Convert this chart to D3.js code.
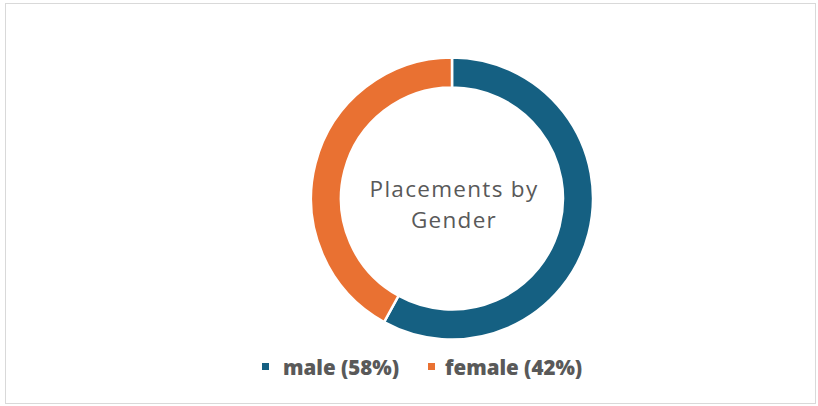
<!DOCTYPE html>
<html>
<head>
<meta charset="utf-8">
<script src="https://cdn.jsdelivr.net/npm/d3@7"></script>
<style>
  body { margin: 0; background: #fff; }
</style>
</head>
<body>
<div id="chart_div"></div>
<script>
// data
const categories = ["male", "female"];
const shares = [58, 42];
const colours = ["#156082", "#E97132"];
const title_lines = ["Placements by", "Gender"];

const width = 818, height = 406;

const svg = d3.select("#chart_div")
  .append("svg")
    .attr("width", width)
    .attr("height", height);

// frame of the chart area
svg.append("rect")
  .attr("x", 5.5).attr("y", 3.5)
  .attr("width", 810).attr("height", 400)
  .attr("fill", "#fff")
  .attr("stroke", "#d9d9d9");

const cx = 452, cy = 198.5;
const outer_r = 141, inner_r = 111;

const pie = d3.pie().sort(null).value(d => d);
const arc = d3.arc().innerRadius(inner_r).outerRadius(outer_r);

const g = svg.append("g").attr("transform", `translate(${cx}, ${cy})`);

g.selectAll("path")
  .data(pie(shares))
  .join("path")
    .attr("d", arc)
    .attr("fill", (d, i) => colours[i])
    .attr("stroke", "#fff")
    .attr("stroke-width", 2.5);

// title inside the donut
g.selectAll("text.title")
  .data(title_lines)
  .join("text")
    .attr("class", "title")
    .attr("text-anchor", "middle")
    .attr("x", 2)
    .attr("y", (d, i) => -1.5 + i * 31)
    .style("font-family", "'Open Sans', sans-serif")
    .style("font-size", "22.5px")
    .style("letter-spacing", "1.3px")
    .style("fill", "#595959")
    .text(d => d);

// legend
const legend_x = [262, 428];
const legend = svg.append("g");
categories.forEach((c, i) => {
  legend.append("rect")
    .attr("x", legend_x[i]).attr("y", 363)
    .attr("width", 7).attr("height", 7)
    .attr("fill", colours[i]);
  legend.append("text")
    .attr("x", legend_x[i] + (i === 0 ? 21 : 17)).attr("y", 375)
    .style("font-family", "'Open Sans', sans-serif")
    .style("font-size", "20.5px")
    .style("font-weight", "800")
    .style("letter-spacing", "0px")
    .style("fill", "#595959")
    .text(`${c} (${shares[i]}%)`);
});
</script>
</body>
</html>
